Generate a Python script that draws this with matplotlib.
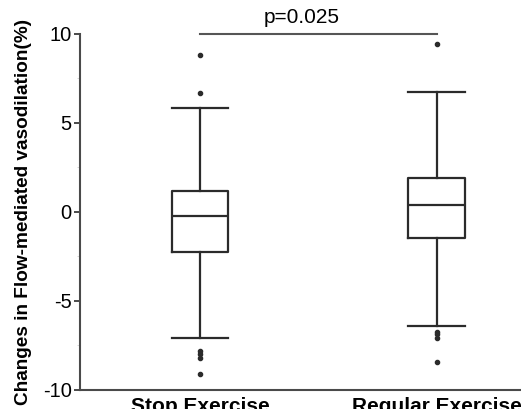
import matplotlib
matplotlib.use('Agg')
import matplotlib.pyplot as plt
from matplotlib.ticker import MultipleLocator

plt.rcParams['font.family'] = ['Liberation Sans', 'DejaVu Sans']

# data
groups = ['Stop Exercise', 'Regular Exercise']
medians = [-0.2, 0.38]
q1 = [-2.27, -1.44]
q3 = [1.2, 1.93]
whis_lo = [-7.06, -6.4]
whis_hi = [5.83, 6.74]
fliers = [
    [8.82, 6.7, -7.8, -8.0, -8.2, -9.12],
    [9.44, -6.72, -6.87, -7.06, -8.41],
]
p_text = 'p=0.025'
yticks = [-10, -5, 0, 5, 10]

stats = []
for i in range(len(groups)):
    stats.append(dict(med=medians[i], q1=q1[i], q3=q3[i],
                      whislo=whis_lo[i], whishi=whis_hi[i],
                      fliers=fliers[i], label=groups[i]))

line_col = '#2b2b2b'
fig = plt.figure(figsize=(5.21, 4.09), dpi=100)
ax = fig.add_axes([0.1536, 0.0465, 0.8464, 0.8704])

ax.bxp(stats, positions=[1, 2], widths=0.24, showfliers=True,
       boxprops=dict(color=line_col, linewidth=1.6),
       medianprops=dict(color=line_col, linewidth=1.6),
       whiskerprops=dict(color=line_col, linewidth=1.6),
       capprops=dict(color=line_col, linewidth=1.6),
       capwidths=0.24,
       flierprops=dict(marker='o', markersize=3.0, markerfacecolor=line_col,
                       markeredgecolor=line_col, linestyle='none'))

ax.set_xlim(0.493, 2.356)
ax.set_ylim(-10, 10)
ax.set_yticks(yticks)
ax.set_yticklabels([str(t) for t in yticks], fontsize=14.5)
ax.yaxis.set_minor_locator(MultipleLocator(2.5))
ax.tick_params(axis='y', which='major', length=4, width=1.2, color=line_col, pad=2)
ax.tick_params(axis='y', which='minor', length=2, width=0.6, color='#d0d0d0')
ax.tick_params(axis='x', length=0, pad=5)
for lab in ax.get_xticklabels():
    lab.set_fontweight('bold')
    lab.set_fontsize(15)

for s in ['top', 'right']:
    ax.spines[s].set_visible(False)
for s in ['left', 'bottom']:
    ax.spines[s].set_color('#4a4a4a')
    ax.spines[s].set_linewidth(1.5)

ax.set_ylabel('Changes in Flow-mediated vasodilation(%)', fontsize=13.7,
              fontweight='bold')
ax.yaxis.set_label_coords(-0.108, 0.5)

# significance bracket
ax.plot([1, 2], [10.0, 10.0], color='#555555', linewidth=1.5, clip_on=False)
ax.text(1.43, 10.4, p_text, ha='center', va='bottom', fontsize=15, clip_on=False)

fig.savefig('out.png', dpi=100)
